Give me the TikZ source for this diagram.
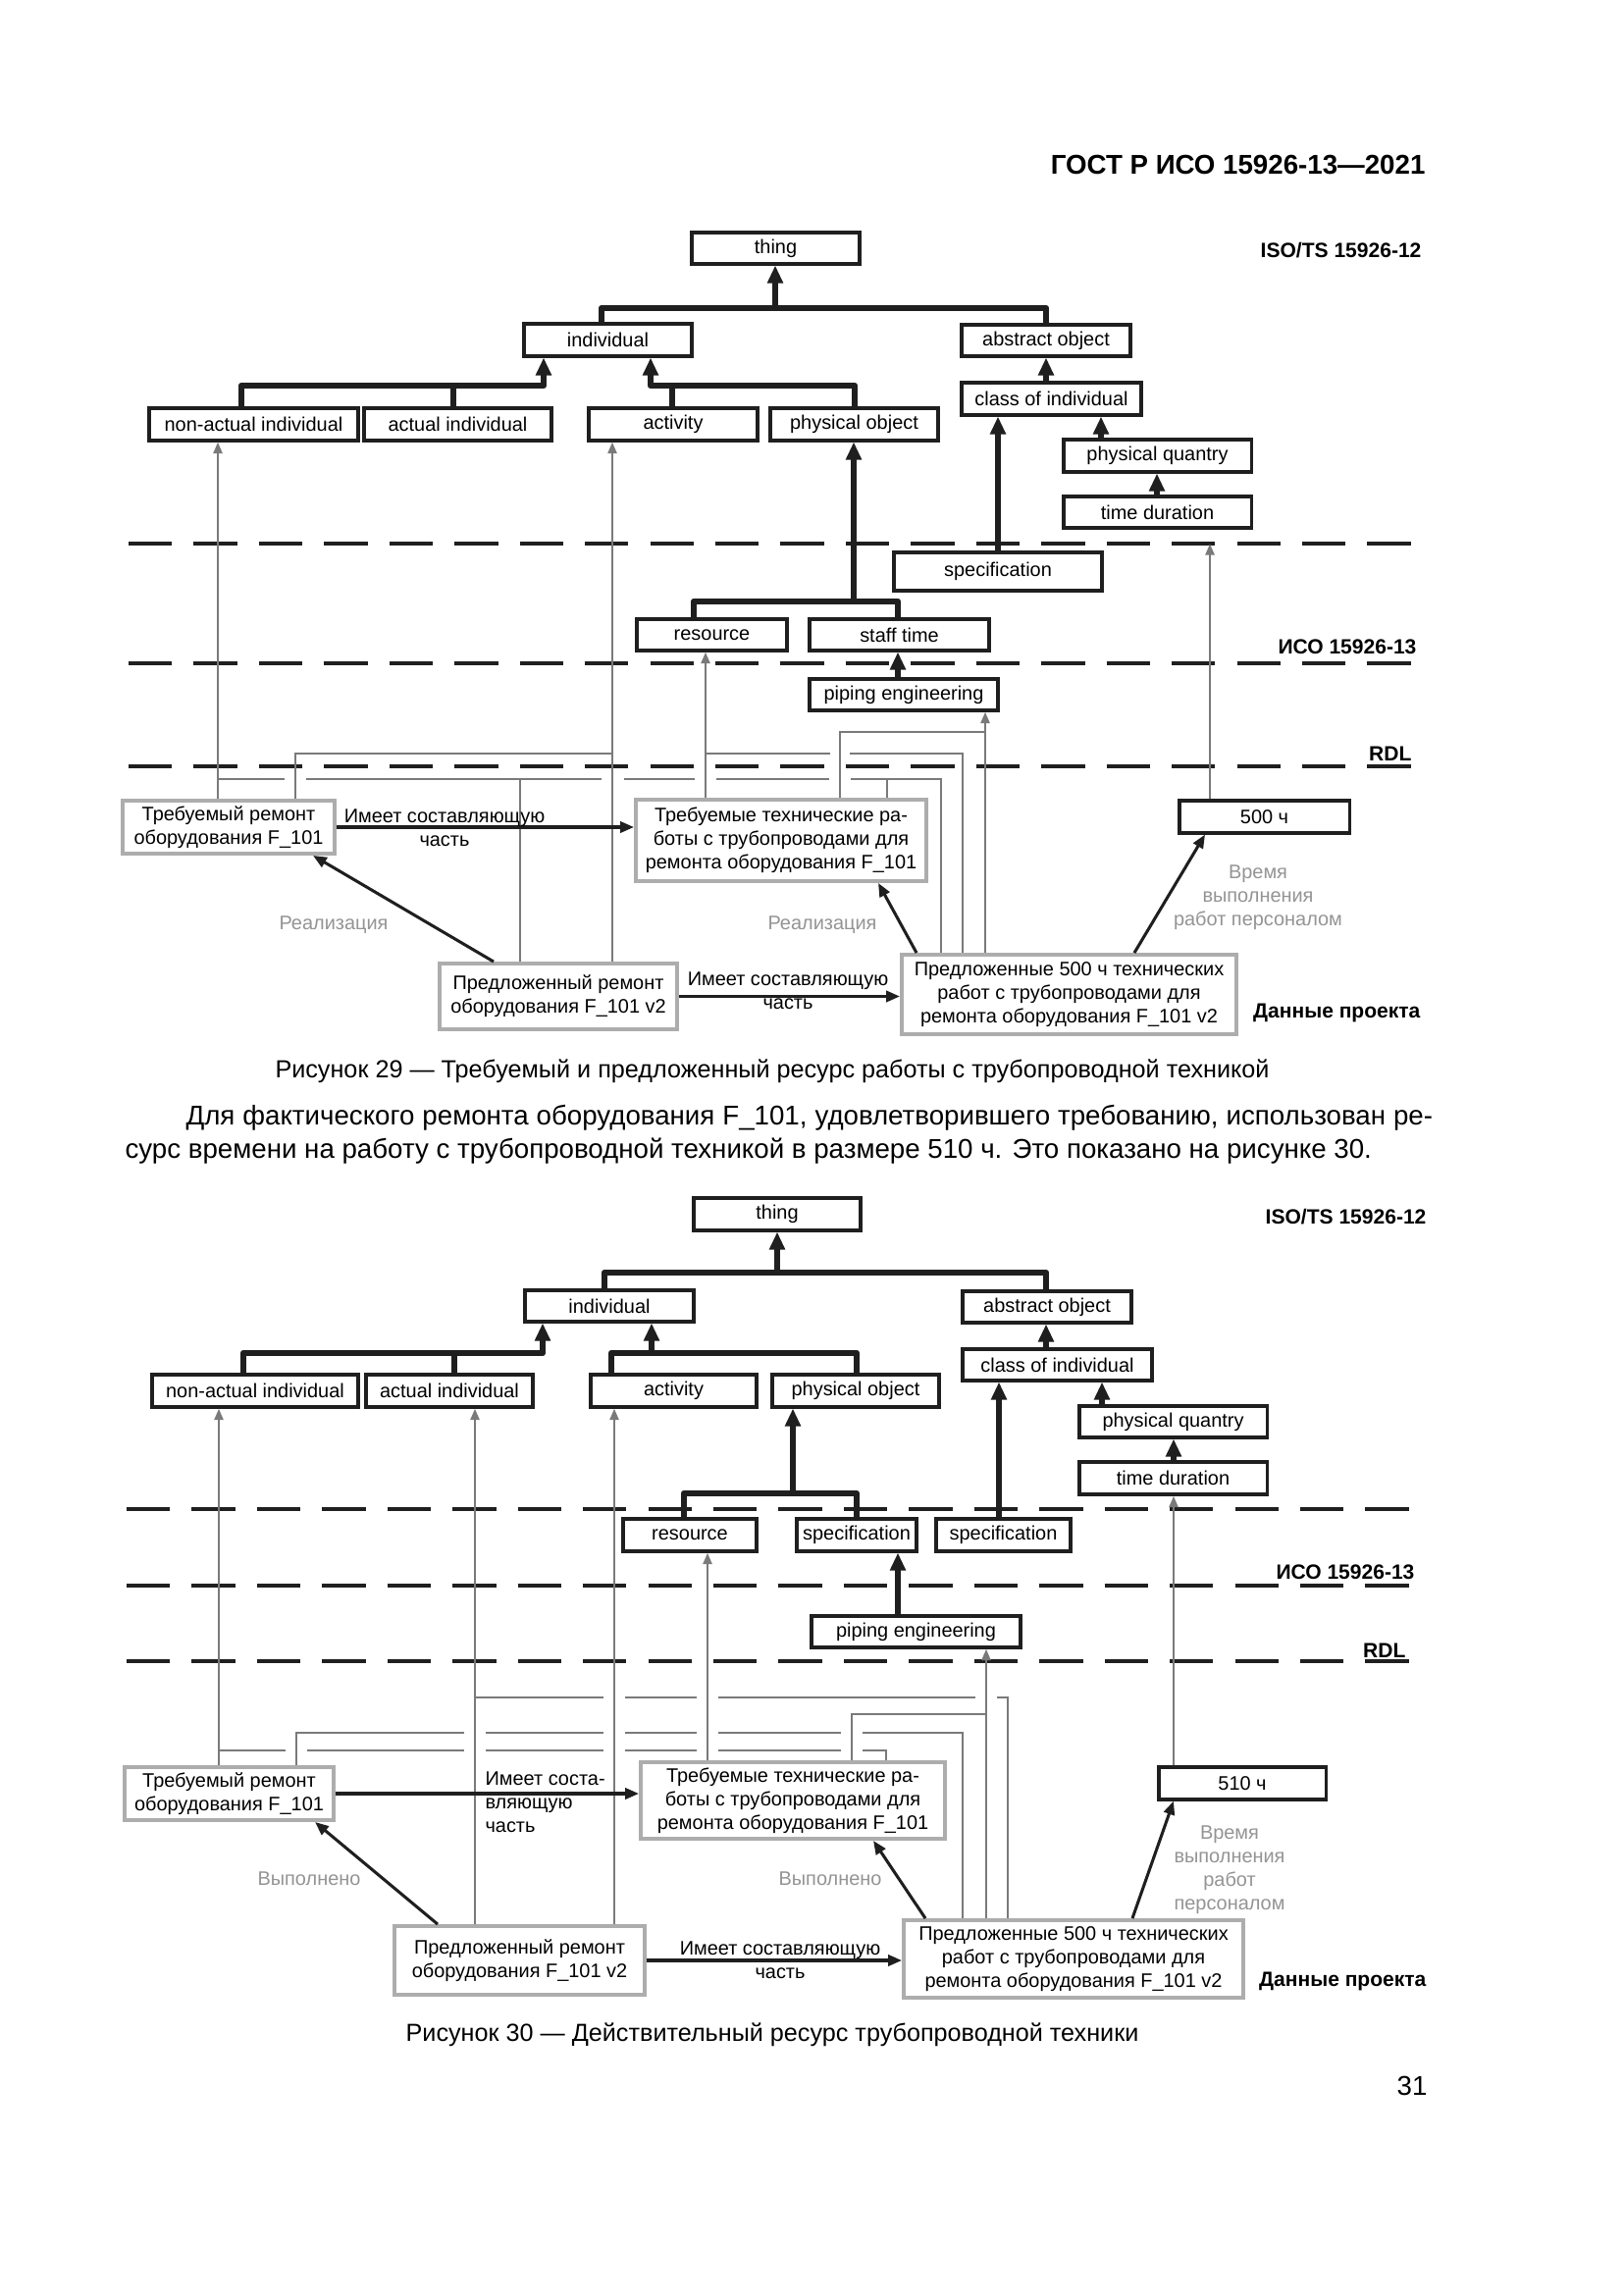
\documentclass[tikz,border=0pt]{standalone}
\usepackage{fontspec}
\setmainfont{Liberation Sans}
\usetikzlibrary{arrows.meta}
\newcommand\dgfont{\fontsize{7.2pt}{8.7pt}\selectfont}
\newcommand\tagfont{\fontsize{7.6pt}{9pt}\selectfont\bfseries}
\newcommand\obx[6]{\node[obox, minimum width={(#4-#2)*0.0127cm}, minimum height={(#5-#3)*0.0127cm}] (#1) at ({(#2+#4)/2},{(#3+#5)/2}) {#6};}
\newcommand\gbx[6]{\node[gbox, minimum width={(#4-#2)*0.0127cm}, minimum height={(#5-#3)*0.0127cm}] (#1) at ({(#2+#4)/2},{(#3+#5)/2}) {#6};}
\tikzset{
 obox/.style={draw=black!88, line width=1.1pt, fill=white, inner sep=0pt, font=\dgfont},
 gbox/.style={draw=black!32, line width=1.4pt, fill=white, inner sep=0pt, align=center, font=\dgfont},
 tk/.style={draw=black!88, line width=2.3pt, line join=round},
 tka/.style={tk, -{Triangle[length=6.5pt,width=5.5pt]}},
 gl/.style={draw=black!52, line width=1pt},
 gla/.style={gl, -{Triangle[length=4.2pt,width=3.2pt]}},
 bla/.style={draw=black!88, line width=1.1pt, -{Triangle[length=5pt,width=4pt]}},
 lvl/.style={draw=black!88, line width=1.3pt, dash pattern=on 16pt off 8pt},
 lbl/.style={font=\dgfont, align=center, inner sep=0pt},
 glbl/.style={lbl, text=black!42},
 tag/.style={font=\tagfont, anchor=east, inner sep=0pt},
 capt/.style={inner sep=0pt, font=\fontsize{9.1pt}{11pt}\selectfont},
 body/.style={anchor=base west, inner sep=0pt, font=\fontsize{10pt}{12pt}\selectfont},
}
\begin{document}
\begin{tikzpicture}[x=0.0127cm, y=-0.0127cm]
\useasboundingbox (0,0) rectangle (1654,2339);
\fill[white] (0,0) rectangle (1654,2339);

\node[anchor=east, inner sep=0pt, font=\fontsize{10pt}{12pt}\selectfont\bfseries] (hdr) at (1453,168) {ГОСТ Р ИСО 15926-13—2021};

% ================= Figure 29 =================
\foreach \yy in {554,676,781} \draw[lvl] (131,\yy) -- (1439,\yy);
\node[tag] (iso12a) at (1449,255) {ISO/TS 15926-12};
\node[tag] (iso13a) at (1444,659) {ИСО 15926-13};
\node[tag] (rdla) at (1439,768) {RDL};
\node[tag] (dpa) at (1448,1032) {Данные проекта};

\obx{thingA}{705}{237}{876}{269}{thing}
\obx{indivA}{534}{330}{705}{363}{individual}
\obx{absA}{980}{331}{1152}{363}{abstract object}
\obx{coiA}{980}{390}{1163}{423}{class of individual}
\obx{pqA}{1084}{448}{1275}{481}{physical quantry}
\obx{tdA}{1084}{506}{1275}{538}{time duration}
\obx{specA}{911}{563}{1123}{602}{specification}
\obx{nonA}{152}{416}{365}{449}{non-actual individual}
\obx{actA}{371}{416}{562}{449}{actual individual}
\obx{actvA}{600}{416}{772}{449}{activity}
\obx{physA}{785}{416}{956}{449}{physical object}
\obx{resA}{649}{631}{802}{663}{resource}
\obx{staffA}{825}{631}{1008}{663}{staff time}
\obx{pipeA}{825}{692}{1017}{724}{piping engineering}
\obx{hA}{1202}{816}{1375}{849}{500 ч}
\gbx{reqA}{125}{816}{341}{870}{Требуемый ремонт\\оборудования F\_101}
\gbx{reqwA}{648}{815}{944}{898}{Требуемые технические ра-\\боты с трубопроводами для\\ремонта оборудования F\_101}
\gbx{propA}{448}{982}{690}{1049}{Предложенный ремонт\\оборудования F\_101 v2}
\gbx{propfA}{919}{973}{1260}{1054}{Предложенные 500 ч технических\\работ с трубопроводами для\\ремонта оборудования F\_101 v2}

% black tree
\draw[tk] (indivA.north -| 613,0) -- (613,314) -- (1066,314) -- (absA.north -| 1066,0);
\draw[tka] (790,314) -- (thingA.south -| 790,0);
\draw[tka] (nonA.north -| 246,0) |- (554,393) -- (indivA.south -| 554,0);
\draw[tk] (462,393) -- (actA.north -| 462,0);
\draw[tka] (physA.north -| 871,0) |- (663,393) -- (indivA.south -| 663,0);
\draw[tk] (685,393) -- (actvA.north -| 685,0);
\draw[tka] (coiA.north -| 1066,0) -- (absA.south -| 1066,0);
\draw[tka] (pqA.north -| 1122,0) -- (coiA.south -| 1122,0);
\draw[tka] (tdA.north -| 1179,0) -- (pqA.south -| 1179,0);
\draw[tka] (specA.north -| 1017,0) -- (coiA.south -| 1017,0);
\draw[tk] (resA.north -| 707,0) -- (707,613) -- (915,613) -- (staffA.north -| 915,0);
\draw[tka] (870,613) -- (physA.south -| 870,0);
\draw[tka] (pipeA.north -| 915,0) -- (staffA.south -| 915,0);

% gray
\draw[gla] (reqA.north -| 222,0) -- (nonA.south -| 222,0);
\draw[gla] (propA.north -| 624,0) -- (actvA.south -| 624,0);
\draw[gla] (reqwA.north -| 719,0) -- (resA.south -| 719,0);
\draw[gla] (propfA.north -| 1004,0) -- (pipeA.south -| 1004,0);
\coordinate (tdtipA) at (1233,554);
\draw[gla] (hA.north -| 1233,0) -- (tdtipA);
\draw[gl] (reqA.north -| 301,0) -- (301,768) -- (624,768);
\draw[gl] (719,768) -- (846,768);
\draw[gl] (866,768) -- (981,768) -- (propfA.north -| 981,0);
\draw[gl] (reqwA.north -| 856,0) -- (856,746) -- (1004,746);
\draw[gl] (222,794) -- (290,794);
\draw[gl] (312,794) -- (613,794);
\draw[gl] (636,794) -- (708,794);
\draw[gl] (730,794) -- (845,794);
\draw[gl] (867,794) -- (959,794) -- (propfA.north -| 959,0);
\draw[gl] (530,794) -- (propA.north -| 530,0);
\draw[gl] (904,794) -- (reqwA.north -| 904,0);

% black relations
\draw[bla] (reqA.east) -- (reqA.east -| reqwA.west);
\node[lbl] (hasA1) at (453,844) {Имеет составляющую\\часть};
\draw[bla] (propA.east) -- (propA.east -| propfA.west);
\node[lbl] (hasA2) at (803,1010) {Имеет составляющую\\часть};
\draw[bla] (propA.north -| 503,0) -- (reqA.south -| 319,0);
\node[glbl] (realA1) at (340,943) {Реализация};
\draw[bla] (propfA.north -| 934,0) -- (reqwA.south -| 895,0);
\node[glbl] (realA2) at (838,943) {Реализация};
\draw[bla] (propfA.north -| 1156,0) -- (hA.south -| 1228,0);
\node[glbl] (timeA) at (1282,915) {Время\\выполнения\\работ персоналом};

\node[capt] (cap29) at (787,1092) {Рисунок 29 — Требуемый и предложенный ресурс работы с трубопроводной техникой};

\node[body] (par1) at (189,1146) {\makebox[16.13cm][s]{Для фактического ремонта оборудования F\_101, удовлетворившего требованию, использован ре-}};
\node[body] (par2) at (127,1180) {сурс времени на работу с трубопроводной техникой в размере 510 ч. Это показано на рисунке 30.};

% ================= Figure 30 =================
\foreach \yy in {1538,1616,1693} \draw[lvl] (129,\yy) -- (1440,\yy);
\node[tag] (iso12b) at (1454,1240) {ISO/TS 15926-12};
\node[tag] (iso13b) at (1442,1602) {ИСО 15926-13};
\node[tag] (rdlb) at (1433,1682) {RDL};
\node[tag] (dpb) at (1454,2019) {Данные проекта};

\obx{thingB}{707}{1221}{877}{1254}{thing}
\obx{indivB}{535}{1315}{707}{1347}{individual}
\obx{absB}{981}{1316}{1153}{1348}{abstract object}
\obx{coiB}{981}{1375}{1174}{1407}{class of individual}
\obx{pqB}{1100}{1433}{1291}{1465}{physical quantry}
\obx{tdB}{1100}{1490}{1291}{1523}{time duration}
\obx{nonB}{155}{1401}{365}{1434}{non-actual individual}
\obx{actB}{373}{1401}{543}{1434}{actual individual}
\obx{actvB}{602}{1401}{771}{1434}{activity}
\obx{physB}{787}{1401}{957}{1434}{physical object}
\obx{resB}{635}{1548}{771}{1581}{resource}
\obx{specB}{812}{1548}{934}{1581}{specification}
\obx{specrB}{954}{1548}{1091}{1581}{specification}
\obx{pipeB}{827}{1647}{1040}{1679}{piping engineering}
\obx{hB}{1181}{1801}{1351}{1834}{510 ч}
\gbx{reqB}{127}{1801}{340}{1855}{Требуемый ремонт\\оборудования F\_101}
\gbx{reqwB}{653}{1796}{963}{1874}{Требуемые технические ра-\\боты с трубопроводами для\\ремонта оборудования F\_101}
\gbx{propB}{402}{1963}{657}{2033}{Предложенный ремонт\\оборудования F\_101 v2}
\gbx{propfB}{921}{1957}{1267}{2036}{Предложенные 500 ч технических\\работ с трубопроводами для\\ремонта оборудования F\_101 v2}

\draw[tk] (indivB.north -| 616,0) -- (616,1297) -- (1066,1297) -- (absB.north -| 1066,0);
\draw[tka] (792,1297) -- (thingB.south -| 792,0);
\draw[tka] (nonB.north -| 248,0) |- (553,1379) -- (indivB.south -| 553,0);
\draw[tk] (463,1379) -- (actB.north -| 463,0);
\draw[tk] (actvB.north -| 623,0) -- (623,1379) -- (873,1379) -- (physB.north -| 873,0);
\draw[tka] (664,1379) -- (indivB.south -| 664,0);
\draw[tka] (coiB.north -| 1066,0) -- (absB.south -| 1066,0);
\draw[tka] (pqB.north -| 1123,0) -- (coiB.south -| 1123,0);
\draw[tka] (tdB.north -| 1196,0) -- (pqB.south -| 1196,0);
\draw[tka] (specrB.north -| 1018,0) -- (coiB.south -| 1018,0);
\draw[tk] (resB.north -| 697,0) -- (697,1522) -- (873,1522) -- (specB.north -| 873,0);
\draw[tka] (808,1522) -- (physB.south -| 808,0);
\draw[tka] (pipeB.north -| 915,0) -- (specB.south -| 915,0);

\draw[gla] (reqB.north -| 223,0) -- (nonB.south -| 223,0);
\draw[gla] (propB.north -| 484,0) -- (actB.south -| 484,0);
\draw[gla] (propB.north -| 626,0) -- (actvB.south -| 626,0);
\draw[gla] (reqwB.north -| 721,0) -- (resB.south -| 721,0);
\draw[gla] (propfB.north -| 1005,0) -- (pipeB.south -| 1005,0);
\draw[gla] (hB.north -| 1196,0) -- (tdB.south -| 1196,0);
% 1730
\draw[gl] (484,1730) -- (615,1730);
\draw[gl] (637,1730) -- (710,1730);
\draw[gl] (732,1730) -- (994,1730);
\draw[gl] (1016,1730) -- (1027,1730) -- (propfB.north -| 1027,0);
% 1747
\draw[gl] (reqwB.north -| 868,0) -- (868,1747) -- (1005,1747);
% 1766
\draw[gl] (reqB.north -| 302,0) -- (302,1766) -- (473,1766);
\draw[gl] (495,1766) -- (615,1766);
\draw[gl] (637,1766) -- (710,1766);
\draw[gl] (732,1766) -- (857,1766);
\draw[gl] (879,1766) -- (981,1766) -- (propfB.north -| 981,0);
% 1784
\draw[gl] (223,1784) -- (291,1784);
\draw[gl] (313,1784) -- (473,1784);
\draw[gl] (495,1784) -- (615,1784);
\draw[gl] (637,1784) -- (710,1784);
\draw[gl] (732,1784) -- (857,1784);
\draw[gl] (879,1784) -- (903,1784) -- (reqwB.north -| 903,0);

\draw[bla] (reqB.east) -- (reqB.east -| reqwB.west);
\node[lbl, align=left, anchor=north west] (hasB1) at (494,1805) {Имеет соста-\\вляющую\\часть};
\draw[bla] (propB.east) -- (propB.east -| propfB.west);
\node[lbl] (hasB2) at (795,1998) {Имеет составляющую\\часть};
\draw[bla] (propB.north -| 446,0) -- (reqB.south -| 321,0);
\node[glbl] (doneB1) at (315,1915) {Выполнено};
\draw[bla] (propfB.north -| 943,0) -- (reqwB.south -| 890,0);
\node[glbl] (doneB2) at (846,1915) {Выполнено};
\draw[bla] (propfB.north -| 1154,0) -- (hB.south -| 1196,0);
\node[glbl] (timeB) at (1253,1906) {Время\\выполнения\\работ\\персоналом};

\node[capt] (cap30) at (787,2074) {Рисунок 30 — Действительный ресурс трубопроводной техники};
\node[anchor=east, inner sep=0pt, font=\fontsize{10pt}{12pt}\selectfont] (pgno) at (1455,2126) {31};
\end{tikzpicture}
\end{document}
